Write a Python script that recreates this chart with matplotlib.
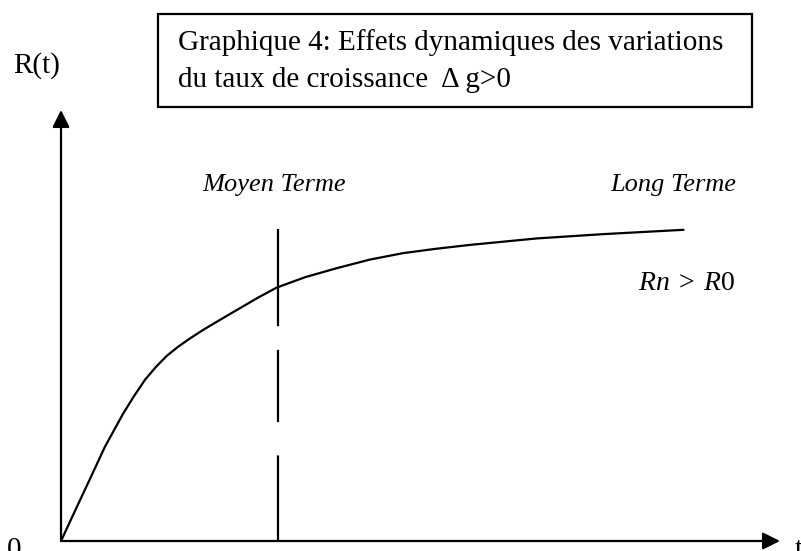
import matplotlib
matplotlib.use('Agg')
import matplotlib.pyplot as plt
from matplotlib.patches import Rectangle

plt.rcParams['font.family'] = ['Liberation Serif', 'DejaVu Serif']
plt.rcParams['mathtext.fontset'] = 'custom'
plt.rcParams['mathtext.rm'] = 'Liberation Serif'
plt.rcParams['mathtext.it'] = 'Liberation Serif:italic'
plt.rcParams['lines.scale_dashes'] = False

# curve R(t) (axis 0..10 both ways)
t_vals = [0, 0.195, 0.403, 0.612, 0.866, 1.015, 1.168, 1.321, 1.474, 1.631,
          1.794, 1.979, 2.170, 2.374, 2.559, 2.744, 3.000, 3.394, 3.835,
          4.298, 4.761, 5.216, 5.688, 6.616, 7.543, 8.655]
r_vals = [0, 0.70, 1.44, 2.19, 2.96, 3.36, 3.74, 4.04, 4.30, 4.51,
          4.70, 4.90, 5.09, 5.29, 5.47, 5.65, 5.88, 6.12, 6.33,
          6.53, 6.68, 6.78, 6.87, 7.02, 7.12, 7.22]

t_moyen = 3.02       # dashed vertical line
r_moyen_top = 7.24

title_lines = ['Graphique 4: Effets dynamiques des variations',
               'du taux de croissance  \u0394 g>0']
label_moyen = 'Moyen Terme'
label_long = 'Long Terme'
label_cond = r'$Rn\;>\;R0$'

W, H = 801, 551
fig = plt.figure(figsize=(W / 100, H / 100), dpi=100)


def fx(x):
    return x / W


def fy(y):
    return (H - y) / H


# axes: origin at (61,541), arrow tips at x=780 and y=110
ax = fig.add_axes([fx(61), fy(541), fx(780) - fx(61), fy(110) - fy(541)])
ax.set_xlim(0, 10)
ax.set_ylim(0, 10)
ax.axis('off')

arrow = dict(arrowstyle='-|>', lw=1.6, color='black', mutation_scale=26,
             shrinkA=0, shrinkB=0)
ax.annotate('', xy=(10, 0), xytext=(0, 0), arrowprops=arrow,
            annotation_clip=False)
ax.annotate('', xy=(0, 10), xytext=(0, 0), arrowprops=arrow,
            annotation_clip=False)

ax.plot(t_vals, r_vals, color='black', lw=1.6, solid_joinstyle='round')
ax.plot([t_moyen, t_moyen], [r_moyen_top, 0], color='black', lw=1.6,
        linestyle=(0, (70, 17, 52, 24, 62, 10)))

ax.text(1.96, 8.12, label_moyen, fontsize=19, style='italic', va='baseline')
ax.text(7.64, 8.12, label_long, fontsize=19, style='italic', va='baseline')
ax.text(8.03, 5.82, label_cond, fontsize=20, va='baseline')

ax.text(-0.67, 10.86, 'R(t)', fontsize=21, va='baseline', clip_on=False)
ax.text(-0.75, -0.37, '0', fontsize=21, va='baseline', clip_on=False)
ax.text(10.21, -0.37, 't', fontsize=21, va='baseline', clip_on=False)

# title box
fig.patches.append(Rectangle((fx(158), fy(107)), fx(752) - fx(158),
                             fy(14) - fy(107), transform=fig.transFigure,
                             fill=False, edgecolor='black', lw=1.6))
fig.text(fx(178), fy(50), title_lines[0], fontsize=21, va='baseline')
fig.text(fx(178), fy(87), title_lines[1], fontsize=21, va='baseline')

fig.savefig('out.png', dpi=100)
